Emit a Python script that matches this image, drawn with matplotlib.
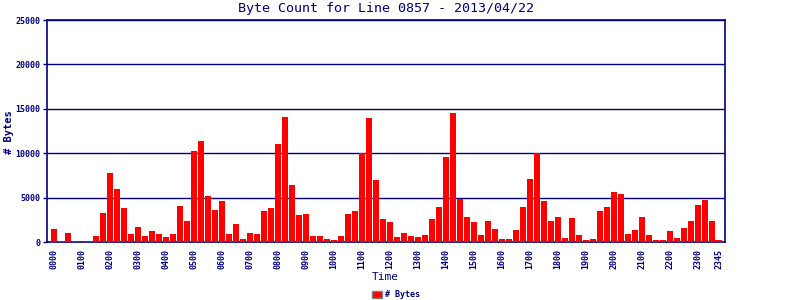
import matplotlib
matplotlib.use('Agg')
from matplotlib import pyplot as plt
from matplotlib.patches import Patch

NAVY = '#000080'

# byte counts in thousands, one per 15 minute slot (0000 .. 2345)
byte_k = [
    1.5, 0.1, 1.0, 0.1, 0.0, 0.1, 0.7, 3.3,
    7.8, 6.0, 3.85, 0.9, 1.7, 0.7, 1.25, 0.9,
    0.57, 0.9, 4.08, 2.38, 10.3, 11.43, 5.2, 3.62,
    4.64, 0.9, 2.04, 0.34, 1.02, 0.9, 3.5, 3.85,
    11.1, 14.04, 6.45, 3.06, 3.17, 0.68, 0.68, 0.34,
    0.23, 0.68, 3.17, 3.5, 10.08, 13.92, 7.02, 2.6,
    2.26, 0.57, 1.02, 0.68, 0.57, 0.79, 2.6, 3.96,
    9.62, 14.49, 4.87, 2.83, 2.26, 0.79, 2.38, 1.47,
    0.34, 0.34, 1.36, 3.96, 7.13, 10.08, 4.64, 2.38,
    2.83, 0.45, 2.72, 0.79, 0.23, 0.34, 3.5, 3.96,
    5.66, 5.43, 0.9, 1.36, 2.83, 0.79, 0.23, 0.23,
    1.25, 0.45, 1.58, 2.38, 4.19, 4.75, 2.38, 0.23,
]
byte_counts = [v * 1000 for v in byte_k]

slots = ['%02d%02d' % (h, m) for h in range(24) for m in (0, 15, 30, 45)]
tick_idx = list(range(0, 96, 4)) + [95]
tick_labels = [slots[i] for i in tick_idx]
y_ticks = [0, 5000, 10000, 15000, 20000, 25000]

mono = 'DejaVu Sans Mono'

fig = plt.figure(figsize=(8, 3), dpi=100)
ax = fig.add_axes([0.059, 0.193, 0.847, 0.74])

x = range(len(byte_counts))
ax.bar(x, byte_counts, width=0.86, color='#ff0000', zorder=3)

ax.set_xlim(-1, 95.9)
ax.set_ylim(0, 25000)
ax.set_yticks(y_ticks)
ax.set_yticklabels([str(v) for v in y_ticks], fontsize=6, family=mono,
                   fontweight='bold', color=NAVY)
ax.set_xticks(tick_idx)
ax.set_xticklabels(tick_labels, rotation=90, fontsize=6, family=mono,
                   fontweight='bold', color=NAVY)
ax.tick_params(axis='y', colors=NAVY, length=3, width=1, pad=2)
ax.tick_params(axis='x', colors=NAVY, length=0, pad=5)

for y in y_ticks[1:]:
    ax.axhline(y, color=NAVY, lw=1.0, zorder=2)

for side in ['left', 'bottom', 'right', 'top']:
    ax.spines[side].set_color(NAVY)
    ax.spines[side].set_linewidth(1.2)

fig.text(0.482, 0.972, 'Byte Count for Line 0857 - 2013/04/22', ha='center',
         va='center', fontsize=9.6, family=mono, color=NAVY)
fig.text(0.011, 0.56, '# Bytes', rotation=90, ha='center', va='center',
         fontsize=7.5, family=mono, fontweight='bold', color=NAVY)
fig.text(0.482, 0.075, 'Time', ha='center', va='center', fontsize=8,
         family=mono, color=NAVY)

handle = Patch(facecolor='#ff0000', edgecolor='#808080', linewidth=1)
fig.legend([handle], ['# Bytes'], loc='center', bbox_to_anchor=(0.495, 0.017),
           frameon=False, prop={'family': mono, 'size': 6, 'weight': 'bold'},
           handlelength=1.2, handleheight=1.0, handletextpad=0.3,
           labelcolor=NAVY, borderpad=0)

fig.savefig('out.png', dpi=100, facecolor='white')
